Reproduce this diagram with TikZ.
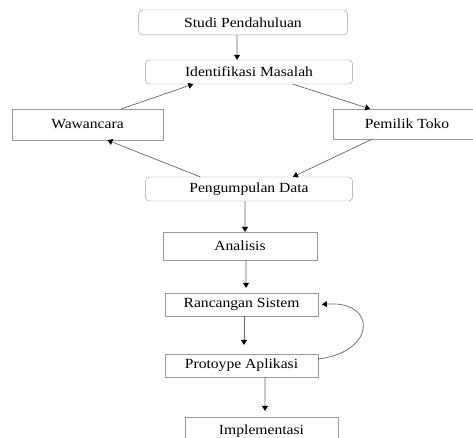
\documentclass[tikz,border=0pt]{standalone}
\usepackage{fontspec}
\setmainfont[FakeStretch=1.12]{Liberation Serif}
\usetikzlibrary{arrows.meta}
\begin{document}
\begin{tikzpicture}[x=1bp,y=-1bp]
	\tikzstyle{rbox} = [draw=black!40, rounded corners=4, inner sep=0, minimum width=208, minimum height=24, font=\fontsize{14}{16}\selectfont]
	\tikzstyle{sbox} = [draw=black!40, inner sep=0, minimum width=153, minimum height=24, font=\fontsize{14}{16}\selectfont]
	\tikzstyle{flow} = [-{Triangle[length=5pt,width=6pt,color=black]}, draw=black!60, line width=0.7]
	\useasboundingbox (0,0) rectangle (473,438);
\node [rbox, minimum width=210, minimum height=25] (v1) at (243,22.5) {Studi Pendahuluan};
\node [rbox] (v2) at (249,72) {Identifikasi Masalah};
\node [sbox, minimum width=151, minimum height=31] (v3) at (87.5,124.5) {Wawancara};
\node [sbox, minimum width=148, minimum height=30] (v4) at (407,124) {Pemilik Toko};
\node [rbox] (v5) at (249,189) {Pengumpulan Data};
\node [sbox, minimum width=154, minimum height=28] (v6) at (240,246) {Analisis};
\node [sbox, minimum height=23] (v7) at (241.5,304.5) {Rancangan Sistem};
\node [sbox, minimum height=23] (v8) at (241.5,365.5) {Protoype Aplikasi};
\node [sbox, minimum height=28] (v9) at (261.5,431) {Implementasi};
\draw [flow] ([xshift=-6]v1.south) -- ([xshift=-12]v2.north);
\draw [flow] ([xshift=34]v3.north) -- ([xshift=-56]v2.south);
\draw [flow] ([xshift=44]v2.south) -- ([xshift=-37]v4.north);
\draw [flow] ([xshift=-49]v5.north) -- ([xshift=20]v3.south);
\draw [flow] ([xshift=-35]v4.south) -- ([xshift=44]v5.north);
\draw [flow] ([xshift=-4]v5.south) -- ([xshift=5]v6.north);
\draw [flow] ([xshift=6]v6.south) -- ([xshift=4.5,yshift=5]v7.north);
\draw [flow] ([xshift=2.5]v7.south) -- ([xshift=2.5,yshift=9]v8.north);
\draw [flow] ([xshift=23.5]v8.south) -- ([xshift=3.5,yshift=6]v9.north);
\draw [flow] ([yshift=6.5]v8.east) .. controls (377,352) and (377,300) .. ([xshift=4]v7.east);
\end{tikzpicture}
\end{document}
